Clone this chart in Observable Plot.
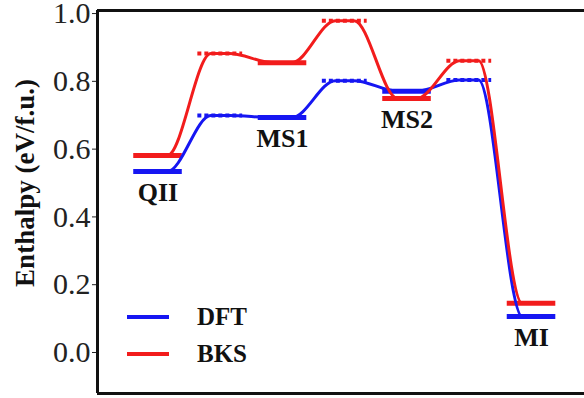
<!DOCTYPE html>
<html><head><meta charset="utf-8">
<script src="https://cdn.jsdelivr.net/npm/d3@7"></script>
<script src="https://cdn.jsdelivr.net/npm/@observablehq/plot@0.6"></script>
<style>
body{margin:0;background:#fff;}
#wrap{position:relative;width:584px;height:398px;font-family:"Liberation Serif",serif;overflow:hidden;}
.sw{position:absolute;left:127px;width:42px;height:4px;}
.lt{position:absolute;left:197px;font-weight:bold;font-size:25px;line-height:25px;color:#111;}
</style></head><body>
<div id="wrap"></div>
<script>
const states = ["QII","TS1","MS1","TS2","MS2","TS3","MI"];
const kinds = ["min","ts","min","ts","min","ts","min"];
const stateLabels = ["QII","","MS1","","MS2","","MI"];
const dft = [0.534,0.699,0.693,0.802,0.771,0.804,0.106];
const bks = [0.581,0.882,0.855,0.979,0.749,0.861,0.145];
const yTicks = [0.0,0.2,0.4,0.6,0.8,1.0];
const seriesNames = ["DFT","BKS"];
const seriesColors = ["#1616f2","#f21c1c"];
const yLabel = "Enthalpy (eV/f.u.)";

const series = [dft, bks];
const levels = [];
const pts = [];
series.forEach((vals, s) => {
  vals.forEach((v, i) => {
    levels.push({i, v, series: seriesNames[s], kind: kinds[i]});
    pts.push({x: i - 0.15, y: v, series: seriesNames[s]});
    pts.push({x: i + 0.15, y: v, series: seriesNames[s]});
  });
});
const labels = states.map((st, i) => ({i, v: Math.min(dft[i], bks[i]), text: stateLabels[i]})).filter(d => d.text);

const xDom = [-0.972, 6.851];
const yDom = [-0.121, 1.009];
const font = "Liberation Serif";

const chart = Plot.plot({
  width: 584, height: 398,
  marginLeft: 97, marginRight: 0, marginTop: 10, marginBottom: 5,
  x: {domain: xDom, axis: null},
  y: {domain: yDom, axis: null},
  color: {domain: seriesNames, range: seriesColors},
  style: {fontFamily: font, background: "#fff"},
  marks: [
    Plot.ruleY(levels.filter(d => d.kind === "min"), {x1: d => d.i - 0.39, x2: d => d.i + 0.39, y: "v", stroke: "series", strokeWidth: 5}),
    Plot.ruleY(levels.filter(d => d.kind === "ts"), {x1: d => d.i - 0.36, x2: d => d.i + 0.36, y: "v", stroke: "series", strokeWidth: 4, strokeDasharray: "4,3"}),
    Plot.line(pts, {x: "x", y: "y", z: "series", stroke: "series", strokeWidth: 3, curve: "monotone-x"}),
    Plot.text(labels, {x: "i", y: "v", text: "text", dy: 21, fontSize: 26, fontWeight: "bold", fill: "#111", lineAnchor: "middle"}),
    Plot.axisY(yTicks, {tickFormat: d3.format(".1f"), tickSize: 5, tickPadding: 2, fontSize: 30, fontFamily: font, fill: "#222", stroke: "#222", label: null}),
    Plot.text([yLabel], {frameAnchor: "left", textAnchor: "middle", rotate: -90, dx: -72, dy: -19, fontSize: 27, fontWeight: "bold", fill: "#111", lineAnchor: "middle"}),
    Plot.ruleX([xDom[0]], {stroke: "#111", strokeWidth: 3}),
    Plot.ruleY([yDom[1], yDom[0]], {stroke: "#111", strokeWidth: 3})
  ]
});
const wrap = document.getElementById("wrap");
wrap.appendChild(chart);
const legTops = [317, 354];
seriesNames.forEach((n, k) => {
  const sw = document.createElement("div");
  sw.className = "sw"; sw.style.top = (legTops[k] - 2) + "px"; sw.style.background = seriesColors[k];
  const t = document.createElement("div");
  t.className = "lt"; t.style.top = (legTops[k] - 13) + "px"; t.textContent = n;
  wrap.appendChild(sw); wrap.appendChild(t);
});
</script>
</body></html>
